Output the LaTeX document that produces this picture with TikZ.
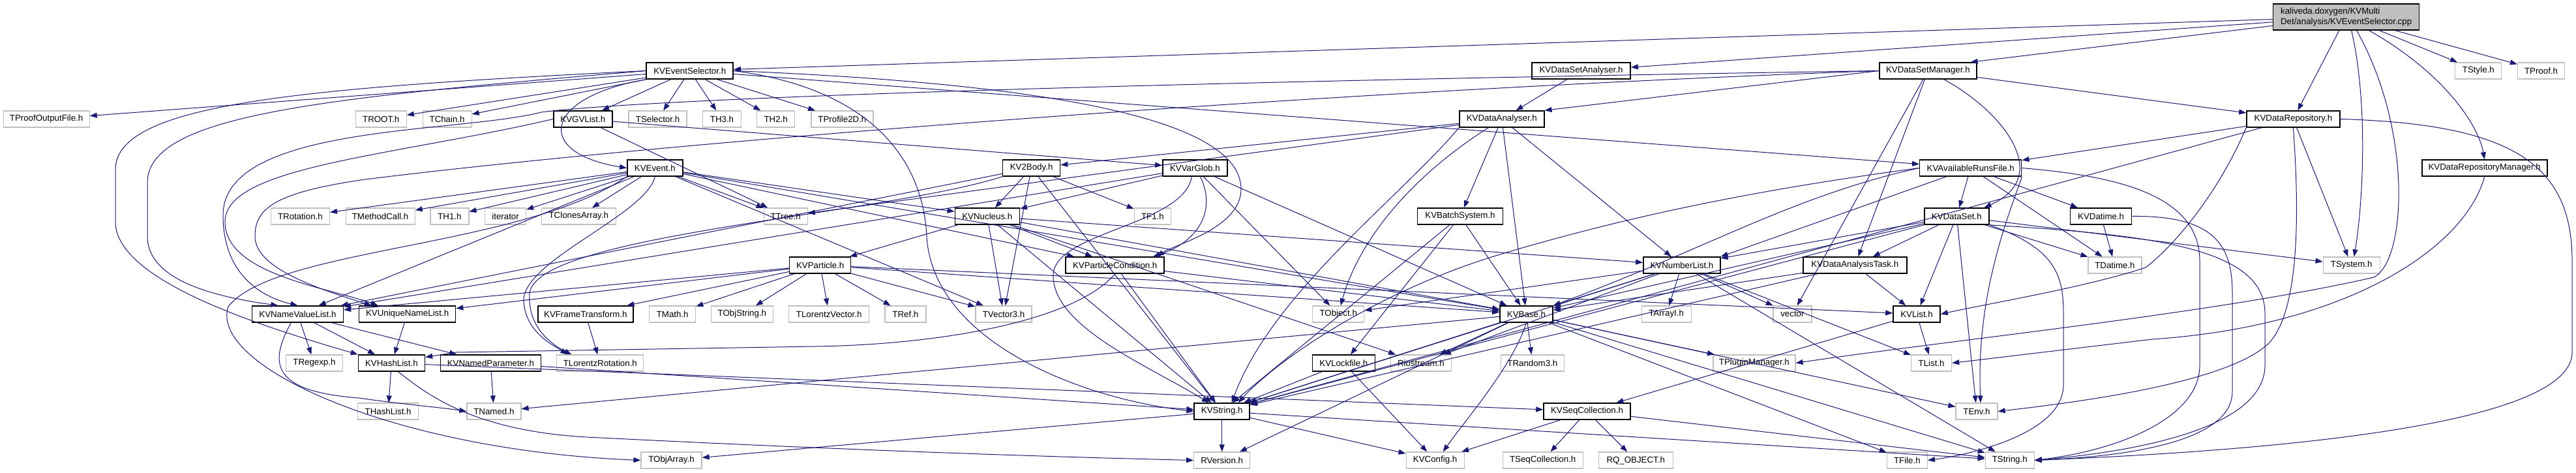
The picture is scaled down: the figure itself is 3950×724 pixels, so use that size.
\documentclass[tikz,border=0pt]{standalone}
\usepackage{fontspec}
\setmainfont{Liberation Sans}
\usetikzlibrary{arrows.meta}
\definecolor{edgeblue}{HTML}{191970}
\definecolor{extgrey}{HTML}{BFBFBF}
\begin{document}
\begin{tikzpicture}[x=1pt,y=-1pt,
    font=\fontsize{13.3}{16}\selectfont,
    hbox/.style={rectangle, minimum height=25pt, inner sep=0pt},
    kvh/.style={hbox, draw=black, line width=1.5pt},
    ext/.style={hbox, draw=extgrey, line width=1.2pt},
    rootbox/.style={rectangle, draw=black, fill=extgrey, line width=1.5pt, minimum width=224pt, minimum height=40pt, inner sep=0pt, align=left},
    dep/.style={draw=edgeblue, line width=1pt, -{Triangle[length=11pt,width=8pt]}}]
\useasboundingbox (0,0) rectangle (3950,724);
% row 0
\node[rootbox] (root) at (3597.6,26) {kaliveda.doxygen/KVMulti\\Det/analysis/KVEventSelector.cpp};
% row 1
\node[kvh, minimum width=133pt] (evsel)  at (1057.7,108.5) {KVEventSelector.h};
\node[kvh, minimum width=151pt] (dsanal) at (2424.5,108.5) {KVDataSetAnalyser.h};
\node[kvh, minimum width=149pt] (dsman)  at (2956.3,108.5) {KVDataSetManager.h};
\node[ext, minimum width=71pt]  (tstyle) at (3800.3,108.5) {TStyle.h};
\node[ext, minimum width=72pt]  (tproof) at (3896.5,108.5) {TProof.h};
% row 2
\node[ext, minimum width=132pt] (tproofout) at (71.1,182.5)   {TProofOutputFile.h};
\node[ext, minimum width=78pt]  (troot)     at (584.2,182.5)  {TROOT.h};
\node[ext, minimum width=75pt]  (tchain)    at (685.6,182.5)  {TChain.h};
\node[kvh, minimum width=90pt]  (kvgvlist)  at (893.8,182.5)  {KVGVList.h};
\node[ext, minimum width=89pt]  (tselector) at (1008.5,182.5) {TSelector.h};
\node[ext, minimum width=59pt]  (th3)       at (1107,182.5)   {TH3.h};
\node[ext, minimum width=58pt]  (th2)       at (1189.7,182.5) {TH2.h};
\node[ext, minimum width=95pt]  (tprofile)  at (1291.4,182.5) {TProfile2D.h};
\node[kvh, minimum width=130pt] (kvdanal)   at (2302.8,182.5) {KVDataAnalyser.h};
\node[kvh, minimum width=143pt] (kvdrepo)   at (3516.4,182.5) {KVDataRepository.h};
% row 3
\node[kvh, minimum width=85pt]  (kvevent)    at (1004.3,257.5) {KVEvent.h};
\node[kvh, minimum width=88pt]  (kv2body)    at (1581.6,257.5) {KV2Body.h};
\node[kvh, minimum width=99pt]  (kvvarglob)  at (1832.4,257.5) {KVVarGlob.h};
\node[kvh, minimum width=156pt] (kvavail)    at (3021.7,257.5) {KVAvailableRunsFile.h};
\node[kvh, minimum width=192pt] (kvdrepoman) at (3809.7,257.5) {KVDataRepositoryManager.h};
% row 4
\node[ext, minimum width=90pt]  (trotation) at (460.4,331.5)  {TRotation.h};
\node[ext, minimum width=106pt] (tmethod)   at (583.1,331.5)  {TMethodCall.h};
\node[ext, minimum width=59pt]  (th1)       at (689.4,331.5)  {TH1.h};
\node[ext, minimum width=63pt]  (iterator)  at (775.1,331.5)  {iterator};
\node[ext, minimum width=114pt] (tclones)   at (887.3,331.5)  {TClonesArray.h};
\node[ext, minimum width=67pt]  (ttree)     at (1204.6,331.5) {TTree.h};
\node[kvh, minimum width=99pt]  (kvnucleus) at (1513.8,331.5) {KVNucleus.h};
\node[ext, minimum width=56pt]  (tf1)       at (1767.4,331.5) {TF1.h};
\node[kvh, minimum width=131pt] (kvbatch)   at (2239,331.5)   {KVBatchSystem.h};
\node[kvh, minimum width=99pt]  (kvdataset) at (3000.3,331.5) {KVDataSet.h};
\node[kvh, minimum width=94pt]  (kvdatime)  at (3221.6,331.5) {KVDatime.h};
% row 5
\node[kvh, minimum width=94pt]  (kvparticle) at (1257.7,406.5) {KVParticle.h};
\node[kvh, minimum width=151pt] (kvpcond)    at (1709.7,406.5) {KVParticleCondition.h};
\node[kvh, minimum width=118pt] (kvnumlist)  at (2578.9,406.5) {KVNumberList.h};
\node[kvh, minimum width=159pt] (kvdatask)   at (2844.3,406.5) {KVDataAnalysisTask.h};
\node[ext, minimum width=82pt]  (tdatime)    at (3242.9,406.5) {TDatime.h};
\node[ext, minimum width=87pt]  (tsystem)    at (3605.7,406.5) {TSystem.h};
% row 6
\node[kvh, minimum width=140pt] (kvnvlist)   at (456.4,481.5)  {KVNameValueList.h};
\node[kvh, minimum width=148pt] (kvunlist)   at (624.6,481.5)  {KVUniqueNameList.h};
\node[kvh, minimum width=146pt] (kvframe)    at (897.8,481.5)  {KVFrameTransform.h};
\node[ext, minimum width=71pt]  (tmath)      at (1031.2,481.5) {TMath.h};
\node[ext, minimum width=95pt]  (tobjstring) at (1137.9,481.5) {TObjString.h};
\node[ext, minimum width=123pt] (tlorentzv)  at (1271.2,481.5) {TLorentzVector.h};
\node[ext, minimum width=63pt]  (tref)       at (1388.4,481.5) {TRef.h};
\node[ext, minimum width=86pt]  (tvector3)   at (1539,481.5)   {TVector3.h};
\node[ext, minimum width=79pt]  (tobject)    at (2052.2,481.5) {TObject.h};
\node[kvh, minimum width=81pt]  (kvbase)     at (2340.5,481.5) {KVBase.h};
\node[ext, minimum width=76pt]  (tarrayi)    at (2555.1,481.5) {TArrayI.h};
\node[ext, minimum width=59pt]  (vector)     at (2748.4,481.5) {vector};
\node[kvh, minimum width=72pt]  (kvlist)     at (2939,481.5)   {KVList.h};
% row 7
\node[ext, minimum width=87pt]  (tregexp)     at (481.9,556.5)  {TRegexp.h};
\node[kvh, minimum width=102pt] (kvhashlist)  at (600.4,556.5)  {KVHashList.h};
\node[kvh, minimum width=154pt] (kvnamedpar)  at (752.4,556.5)  {KVNamedParameter.h};
\node[ext, minimum width=133pt] (tlorentzrot) at (920.3,556.5)  {TLorentzRotation.h};
\node[kvh, minimum width=96pt]  (kvlockfile)  at (2060.4,556.5) {KVLockfile.h};
\node[ext, minimum width=93pt]  (riostream)   at (2178.9,556.5) {Riostream.h};
\node[ext, minimum width=97pt]  (trandom3)    at (2349.8,556.5) {TRandom3.h};
\node[ext, minimum width=126pt] (tplugin)     at (2689.9,556.5) {TPluginManager.h};
\node[ext, minimum width=62pt]  (tlist)       at (2961.6,556.5) {TList.h};
% row 8
\node[ext, minimum width=93pt]  (thashlist) at (595.1,630.5)  {THashList.h};
\node[ext, minimum width=83pt]  (tnamed)    at (757.4,630.5)  {TNamed.h};
\node[kvh, minimum width=85pt]  (kvstring)  at (1873.7,630.5) {KVString.h};
\node[kvh, minimum width=133pt] (kvseqcoll) at (2433.5,630.5) {KVSeqCollection.h};
\node[ext, minimum width=64pt]  (tenv)      at (3031,630.5)   {TEnv.h};
% row 9
\node[ext, minimum width=93pt]  (tobjarray) at (1029.5,705.5) {TObjArray.h};
\node[ext, minimum width=86pt]  (rversion)  at (1873.7,705.5) {RVersion.h};
\node[ext, minimum width=89pt]  (kvconfig)  at (2200.6,705.5) {KVConfig.h};
\node[ext, minimum width=123pt] (tseqcoll)  at (2365.7,705.5) {TSeqCollection.h};
\node[ext, minimum width=114pt] (rqobject)  at (2508.2,705.5) {RQ\_OBJECT.h};
\node[ext, minimum width=62pt]  (tfile)     at (2924.3,705.5) {TFile.h};
\node[ext, minimum width=75pt]  (tstring)   at (3081.7,705.5) {TString.h};
% includes of the source file
\draw[dep] (root) -- (evsel);
\draw[dep] (root) -- (dsanal);
\draw[dep] (root) -- ([xshift=-10pt]dsman.north east);
\draw[dep] (root) -- (kvdrepo);
\draw[dep] (root) -- (tstyle);
\draw[dep] (root) -- (tproof);
\draw[dep] ([xshift=35pt]root.south) .. controls (3745,110) and (3800,190) .. (kvdrepoman.north);
\draw[dep] ([xshift=8pt]root.south) .. controls (3630,150) and (3625,300) .. ([xshift=4pt]tsystem.north);
\draw[dep] ([xshift=16pt]root.south) .. controls (3700,200) and (3690,400) .. (3640,425) .. controls (3400,480) and (3000,520) .. (tplugin.east);
% KVEventSelector.h
\draw[dep] (evsel) -- (tproofout);
\draw[dep] (evsel) -- (troot);
\draw[dep] (evsel) -- (tchain);
\draw[dep] (evsel) -- (kvgvlist);
\draw[dep] (evsel) -- (tselector);
\draw[dep] (evsel) -- (th3);
\draw[dep] (evsel) -- (th2);
\draw[dep] (evsel) -- (tprofile);
\draw[dep] (evsel.south west) .. controls (830,150) and (820,235) .. (kvevent.west);
\draw[dep] (evsel.west) .. controls (450,135) and (177,160) .. (177,260) -- (177,340) .. controls (177,430) and (400,500) .. (kvhashlist.north west);
\draw[dep] (evsel.west) .. controls (500,150) and (226,175) .. (226,280) -- (226,362) .. controls (226,430) and (330,455) .. ([xshift=-30pt]kvnvlist.north);
\draw[dep] (evsel.east) .. controls (1650,130) and (1903,190) .. (1903,290) .. controls (1903,350) and (1800,375) .. ([xshift=-12pt]kvpcond.north east);
\draw[dep] (evsel.east) .. controls (1330,135) and (1415,240) .. (1421,362) .. controls (1430,520) and (1650,610) .. (kvstring.west);
\draw[dep] (evsel) -- (kvavail);
\draw[dep] (dsanal) -- (kvdanal);
% KVDataSetManager.h
\draw[dep] (dsman.west) -- (kvdanal.north east);
\draw[dep] (dsman) -- (kvdrepo);
\draw[dep] (dsman) .. controls (3070,170) and (3150,270) .. ([xshift=-8pt]kvdataset.north east);
\draw[dep] (dsman) -- (kvdatask);
\draw[dep] (dsman) -- (vector);
\draw[dep] (dsman.west) .. controls (1800,125) and (1000,150) .. (830,172) .. controls (700,205) and (342,190) .. (342,330) .. controls (342,420) and (400,455) .. (kvnvlist.north);
\draw[dep] (dsman.west) .. controls (2000,140) and (1000,220) .. (560,275) .. controls (420,295) and (391,320) .. (391,362) .. controls (391,410) and (480,440) .. ([xshift=-55pt]kvunlist.north);
% KVDataAnalyser.h
\draw[dep] (kvdanal) -- (kvbatch);
\draw[dep] (kvdanal) -- (kvnumlist);
\draw[dep] (kvdanal) -- (kvbase);
\draw[dep] (kvdanal.south west) .. controls (2150,300) and (1950,450) .. ([xshift=15pt]kvstring.north);
\draw[dep] (kvdanal) .. controls (2150,280) and (2080,380) .. (tobject);
\draw[dep] (kvdanal) -- (ttree);
\draw[dep] (kvdanal) -- (kv2body);
% KVGVList.h
\draw[dep] (kvgvlist) -- (kvvarglob);
\draw[dep] (kvgvlist) -- (ttree);
\draw[dep] (kvgvlist.west) .. controls (600,240) and (345,255) .. (345,340) .. controls (345,420) and (500,440) .. ([xshift=-45pt]kvunlist.north);
% KVEvent.h
\draw[dep] (kvevent) -- (trotation);
\draw[dep] (kvevent) -- (tmethod);
\draw[dep] (kvevent) -- (th1);
\draw[dep] (kvevent) -- (iterator);
\draw[dep] (kvevent) -- (tclones);
\draw[dep] (kvevent) -- (ttree);
\draw[dep] (kvevent) -- (kvnucleus);
\draw[dep] (kvevent) -- (kvpcond);
\draw[dep] (kvevent) -- (tvector3);
\draw[dep] (kvevent) -- (kvbase);
\draw[dep] (kvevent) -- (kvnvlist);
\draw[dep] (kvevent.south) .. controls (990,330) and (800,400) .. (803,462) .. controls (806,510) and (850,530) .. ([xshift=-50pt]tlorentzrot.north);
\draw[dep] (kvevent.south west) .. controls (800,380) and (420,380) .. (350,470) .. controls (320,560) and (600,690) .. (tobjarray.west);
% KV2Body.h and KVVarGlob.h
\draw[dep] (kv2body) -- (kvnucleus);
\draw[dep] (kv2body) -- (tf1);
\draw[dep] (kv2body) -- (tvector3);
\draw[dep] (kv2body) -- (kvstring);
\draw[dep] (kv2body) -- (kvnvlist);
\draw[dep] (kv2body.south west) .. controls (1350,330) and (820,360) .. (812,450) .. controls (808,510) and (860,535) .. ([xshift=-44pt]tlorentzrot.north);
\draw[dep] (kvvarglob) -- (kvnucleus);
\draw[dep] ([xshift=8pt]kvvarglob.south) .. controls (1865,320) and (1840,370) .. ([xshift=-18pt]kvpcond.north east);
\draw[dep] (kvvarglob) -- (kvbase);
\draw[dep] (kvvarglob) -- (kvnvlist);
\draw[dep] (kvvarglob) -- (tobject);
\draw[dep] ([xshift=-5pt]kvvarglob.south) .. controls (1815,345) and (1620,355) .. (1615,420) .. controls (1612,500) and (1760,560) .. ([xshift=-20pt]kvstring.north);
% KVNucleus.h and KVParticle.h
\draw[dep] (kvnucleus) -- (kvparticle);
\draw[dep] (kvnucleus) -- (tvector3);
\draw[dep] (kvnucleus) -- (kvnumlist);
\draw[dep] (kvnucleus) -- (kvstring);
\draw[dep] (kvnucleus) -- (kvbase);
\draw[dep] (kvnucleus) -- (kvpcond);
\draw[dep] (kvnucleus) -- (riostream);
\draw[dep] (kvparticle) -- (kvframe);
\draw[dep] (kvparticle) -- (tmath);
\draw[dep] (kvparticle) -- (tobjstring);
\draw[dep] (kvparticle) -- (tlorentzv);
\draw[dep] (kvparticle) -- (tref);
\draw[dep] (kvparticle) -- (tvector3);
\draw[dep] (kvparticle) -- (kvunlist);
\draw[dep] (kvparticle) -- (kvnvlist);
\draw[dep] (kvparticle) -- (kvbase);
\draw[dep] (kvparticle) -- (kvlist);
% KVParticleCondition.h
\draw[dep] (kvpcond) -- (kvstring);
\draw[dep] (kvpcond) -- (kvbase);
\draw[dep] (kvpcond.south) .. controls (1650,490) and (1450,528) .. (1250,531) -- (700,540) -- ([yshift=9pt]kvhashlist.east);
% lists and collections
\draw[dep] (kvnvlist) -- (tregexp);
\draw[dep] (kvnvlist) -- (kvhashlist);
\draw[dep] (kvnvlist) -- (kvnamedpar);
\draw[dep] ([xshift=-10pt]kvnvlist.south) .. controls (410,560) and (420,600) .. (550,610) .. controls (620,620) and (680,625) .. (tnamed.west);
\draw[dep] (kvunlist) -- (kvhashlist);
\draw[dep] (kvhashlist) -- (thashlist);
\draw[dep] (kvhashlist) -- (kvseqcoll);
\draw[dep] ([xshift=10pt]kvhashlist.south) .. controls (650,600) and (720,660) .. (900,670) .. controls (1300,690) and (1600,700) .. (rversion.west);
\draw[dep] (kvnamedpar) -- (tnamed);
\draw[dep] (kvnamedpar) -- (kvstring);
\draw[dep] (kvframe) -- (tlorentzrot);
% KVBase.h
\draw[dep] (kvbase.south) .. controls (2320,560) and (2250,640) .. ([xshift=12pt]kvconfig.north);
\draw[dep] (kvbase) -- (riostream);
\draw[dep] (kvbase) -- (trandom3);
\draw[dep] (kvbase) -- (tnamed);
\draw[dep] (kvbase) -- (rversion);
\draw[dep] (kvbase) -- (kvstring);
\draw[dep] (kvbase) -- (tstring);
\draw[dep] (kvbase) -- (tenv);
\draw[dep] (kvbase) -- (tplugin);
\draw[dep] (kvbase) -- (tfile);
\draw[dep] (kvlockfile) -- (kvstring);
\draw[dep] (kvlockfile) -- (kvconfig);
\draw[dep] (kvstring) -- (tstring);
\draw[dep] (kvstring) -- (tobjarray);
\draw[dep] (kvstring) -- (rversion);
\draw[dep] (kvstring) -- (kvconfig);
\draw[dep] (kvseqcoll) -- (tseqcoll);
\draw[dep] (kvseqcoll) -- (rqobject);
\draw[dep] (kvseqcoll) -- (kvconfig);
\draw[dep] (kvseqcoll) -- (tstring);
% KVNumberList.h and KVBatchSystem.h
\draw[dep] (kvnumlist) -- (tarrayi);
\draw[dep] (kvnumlist) -- (vector);
\draw[dep] (kvnumlist) -- (kvstring);
\draw[dep] (kvnumlist) -- (tobject);
\draw[dep] (kvnumlist) -- (kvbase);
\draw[dep] (kvnumlist) -- (tstring);
\draw[dep] (kvnumlist) -- (riostream);
\draw[dep] (kvnumlist) -- (tlist);
\draw[dep] (kvbatch) -- (kvbase);
\draw[dep] (kvbatch) -- (kvstring);
\draw[dep] (kvbatch) -- (kvlockfile);
% data repositories and data sets
\draw[dep] (kvdrepo) -- (kvavail);
\draw[dep] (kvdrepo) -- (tsystem);
\draw[dep] (kvdrepo) -- (kvstring);
\draw[dep] (kvdrepo.south west) .. controls (3400,300) and (3330,380) .. (3290,410) .. controls (3200,440) and (3050,465) .. (kvlist.east);
\draw[dep] (kvdrepo.south) .. controls (3524,300) and (3530,470) .. (3480,525) .. controls (3420,585) and (3200,615) .. (tenv.east);
\draw[dep] (kvdrepo.east) .. controls (3850,190) and (3944,250) .. (3944,400) -- (3944,540) .. controls (3944,650) and (3500,690) .. (tstring.east);
\draw[dep] (kvavail) -- (kvdataset);
\draw[dep] (kvavail) -- (kvdatime);
\draw[dep] (kvavail.west) .. controls (2750,300) and (2620,380) .. (kvbase.north east);
\draw[dep] (kvavail) -- (kvnumlist.north east);
\draw[dep] (kvavail) -- (tdatime);
\draw[dep] (kvavail.west) .. controls (2700,290) and (2500,330) .. (2300,390) .. controls (2100,450) and (1950,560) .. ([xshift=25pt]kvstring.north);
\draw[dep] (kvavail.south east) .. controls (3080,330) and (3030,450) .. ([xshift=6pt]tenv.north);
\draw[dep] (kvavail.east) .. controls (3250,270) and (3373,300) .. (3373,400) -- (3373,560) .. controls (3373,640) and (3250,690) .. (tstring.east);
\draw[dep] (kvdataset) -- (kvdatask);
\draw[dep] (kvdataset) -- (kvnumlist);
\draw[dep] (kvdataset) -- (kvlist);
\draw[dep] (kvdataset) -- (tdatime);
\draw[dep] (kvdataset) -- (tsystem);
\draw[dep] (kvdataset) -- (kvbase);
\draw[dep] (kvdataset) -- (tenv);
\draw[dep] (kvdataset) -- (kvstring);
\draw[dep] (kvdataset.south east) .. controls (3150,380) and (3164,420) .. (3164,480) -- (3164,590) .. controls (3164,670) and (3000,700) .. (tfile.east);
\draw[dep] (kvdataset.south east) .. controls (3300,360) and (3473,380) .. (3473,480) -- (3473,560) .. controls (3473,650) and (3300,690) .. (tstring.east);
\draw[dep] (kvdatime) -- (tdatime);
\draw[dep] (kvdatime.east) .. controls (3400,330) and (3423,380) .. (3423,450) -- (3423,600) .. controls (3423,680) and (3250,700) .. (tstring.east);
\draw[dep] (kvdatask) -- (kvlist);
\draw[dep] (kvdatask) -- (kvbase);
\draw[dep] (kvdatask) -- (kvstring);
\draw[dep] (kvlist) -- (tlist);
\draw[dep] (kvlist) -- (kvseqcoll);
\draw[dep] (kvdrepoman.south) .. controls (3780,380) and (3600,500) .. (3300,520) -- (tlist.east);
\end{tikzpicture}
\end{document}
